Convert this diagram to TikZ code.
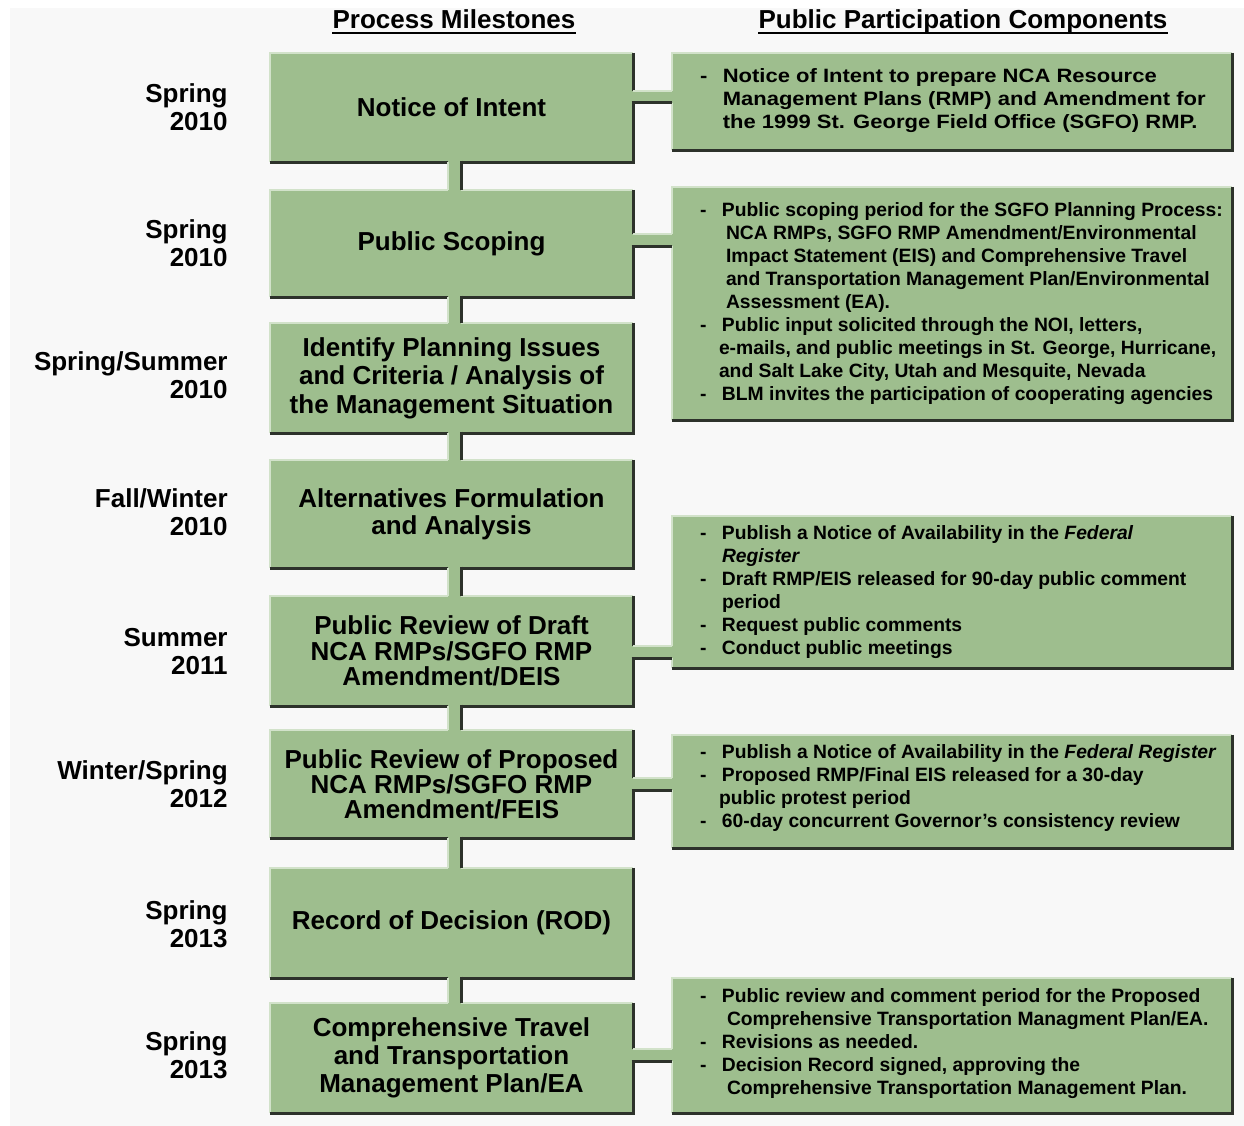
\documentclass[tikz,border=0pt]{standalone}
\usepackage{fontspec}
\usepackage{graphicx}
\setmainfont{Liberation Sans}
\usetikzlibrary{calc}
\definecolor{boxgreen}{RGB}{158,190,142}
\definecolor{edgedark}{RGB}{45,50,43}
\definecolor{edgelight}{RGB}{210,226,202}
\definecolor{bggray}{RGB}{248,248,248}
\tikzset{
  mbox/.style={fill=boxgreen, minimum width=363pt, inner sep=0pt, align=center,
    font=\fontsize{26}{28.5}\selectfont\bfseries},
  pbox/.style={fill=boxgreen, minimum width=560pt, inner sep=0pt},
  tlabel/.style={anchor=east, align=right, inner sep=0pt,
    font=\fontsize{26}{28}\selectfont\bfseries},
  rtext/.style={anchor=west, inner sep=0pt, align=left,
    font=\fontsize{19.3}{23}\selectfont\bfseries},
  hdr/.style={anchor=base, inner sep=0pt, font=\fontsize{26}{28}\selectfont\bfseries},
  darkline/.style={edgedark, line width=3pt, line join=miter},
  lightline/.style={edgelight, line width=1.5pt},
}
\newcommand\bevelbox[1]{%
  \draw[lightline] (#1.south west) -- (#1.north west) -- (#1.north east);
  \draw[darkline] (#1.north east) -- (#1.south east) -- (#1.south west);
}
\newcommand\vconn[2]{%
  \fill[boxgreen] ($(#1.south)+(-3.5,-3)$) rectangle ($(#2.north)+(9.5,3)$);
  \draw[lightline] ($(#1.south)+(-3.5,0)$) -- ($(#2.north)+(-3.5,0)$);
  \draw[darkline] ($(#1.south)+(9.5,-1.5)$) -- ($(#2.north)+(9.5,0)$);
}
\newcommand\hconn[3]{%
  \coordinate (#1h) at ($(#1.east)+(0,#3)$);
  \fill[boxgreen] ($(#1h)+(-3,-6)$) rectangle ($(#2.west |- #1h)+(3,6)$);
  \draw[lightline] ($(#1h)+(0,-6)$) -- ($(#2.west |- #1h)+(0,-6)$);
  \draw[darkline] ($(#1h)+(-1.5,6)$) -- ($(#2.west |- #1h)+(0,6)$);
}
\begin{document}
\begin{tikzpicture}[x=1pt,y=-1pt]
\useasboundingbox (0,0) rectangle (1244,1126);
\fill[white] (0,0) rectangle (1244,1126);
\fill[bggray] (10,8) rectangle (1244,1126);

% headers
\node[hdr] (H1) at (454,29) {Process Milestones};
\node[hdr] (H2) at (963,29) {Public Participation Components};
\draw[line width=2pt] ($(H1.base west)+(0,4)$) -- ($(H1.base east)+(0,4)$);
\draw[line width=2pt] ($(H2.base west)+(0,4)$) -- ($(H2.base east)+(0,4)$);

% milestone boxes
\node[mbox, minimum height=109pt] (L1) at (451.5,107.5) {Notice of Intent};
\node[mbox, minimum height=107pt] (L2) at (451.5,243.5) {Public Scoping};
\node[mbox, minimum height=110pt] (L3) at (451.5,378) {Identify Planning Issues\\and Criteria / Analysis of\\the Management Situation};
\node[mbox, minimum height=108pt, font=\fontsize{26}{27}\selectfont\bfseries] (L4) at (451.5,514) {Alternatives Formulation\\and Analysis};
\node[mbox, minimum height=110pt, font=\fontsize{26}{25.5}\selectfont\bfseries] (L5) at (451.5,651) {Public Review of Draft\\NCA RMPs/SGFO RMP\\Amendment/DEIS};
\node[mbox, minimum height=108pt, font=\fontsize{26}{25}\selectfont\bfseries] (L6) at (451.5,784) {Public Review of Proposed\\NCA RMPs/SGFO RMP\\Amendment/FEIS};
\node[mbox, minimum height=110pt] (L7) at (451.5,923) {Record of Decision (ROD)};
\node[mbox, minimum height=110pt, font=\fontsize{26}{28}\selectfont\bfseries] (L8) at (451.5,1058) {Comprehensive Travel\\and Transportation\\Management Plan/EA};
\foreach \n in {L1,L2,L3,L4,L5,L6,L7,L8} {\bevelbox{\n}}

% participation boxes
\node[pbox, minimum height=97pt] (R1) at (952,101.5) {};
\node[pbox, minimum height=233pt] (R2) at (952,303.5) {};
\node[pbox, minimum height=152pt] (R3) at (952,592) {};
\node[pbox, minimum height=113pt] (R4) at (952,791.5) {};
\node[pbox, minimum height=135pt] (R5) at (952,1045.5) {};
\foreach \n in {R1,R2,R3,R4,R5} {\bevelbox{\n}}

% connectors
\vconn{L1}{L2}
\vconn{L2}{L3}
\vconn{L3}{L4}
\vconn{L4}{L5}
\vconn{L5}{L6}
\vconn{L6}{L7}
\vconn{L7}{L8}
\hconn{L1}{R1}{-10.5}
\hconn{L2}{R2}{-3.5}
\hconn{L5}{R3}{1}
\hconn{L6}{R4}{0}
\hconn{L8}{R5}{-3}

% time labels
\node[tlabel] (T1) at ($(L1.west)+(-42,0)$) {Spring\\2010};
\node[tlabel] (T2) at ($(L2.west)+(-42,0)$) {Spring\\2010};
\node[tlabel] (T3) at ($(L3.west)+(-42,-3)$) {Spring/Summer\\2010};
\node[tlabel] (T4) at ($(L4.west)+(-42,-2)$) {Fall/Winter\\2010};
\node[tlabel] (T5) at ($(L5.west)+(-42,1)$) {Summer\\2011};
\node[tlabel] (T6) at ($(L6.west)+(-42,0)$) {Winter/Spring\\2012};
\node[tlabel] (T7) at ($(L7.west)+(-42,1)$) {Spring\\2013};
\node[tlabel] (T8) at ($(L8.west)+(-42,-3)$) {Spring\\2013};

% participation texts
\node[rtext] (P1) at ($(R1.west)+(28,-1)$) {\scalebox{1.14}[1]{\begin{tabular}{@{}p{20pt}@{}l@{}}
- & Notice of Intent to prepare NCA Resource\\
  & Management Plans (RMP) and Amendment for\\
  & the 1999 St. George Field Office (SGFO) RMP.
\end{tabular}}};
\node[rtext] (P2) at ($(R2.west)+(28,0)$) {\begin{tabular}{@{}p{22pt}@{}l@{}}
- & Public scoping period for the SGFO Planning Process:\\
  & \hspace{4pt}NCA RMPs, SGFO RMP Amendment/Environmental\\
  & \hspace{4pt}Impact Statement (EIS) and Comprehensive Travel\\
  & \hspace{4pt}and Transportation Management Plan/Environmental\\
  & \hspace{4pt}Assessment (EA).\\
- & Public input solicited through the NOI, letters,\\
  & \hspace{-3pt}e-mails, and public meetings in St. George, Hurricane,\\
  & \hspace{-3pt}and Salt Lake City, Utah and Mesquite, Nevada\\
- & BLM invites the participation of cooperating agencies
\end{tabular}};
\node[rtext] (P3) at ($(R3.west)+(28,0)$) {\begin{tabular}{@{}p{22pt}@{}l@{}}
- & Publish a Notice of Availability in the \textit{Federal}\\
  & \textit{Register}\\
- & Draft RMP/EIS released for 90-day public comment\\
  & period\\
- & Request public comments\\
- & Conduct public meetings
\end{tabular}};
\node[rtext] (P4) at ($(R4.west)+(28,-3)$) {\begin{tabular}{@{}p{22pt}@{}l@{}}
- & Publish a Notice of Availability in the \textit{Federal Register}\\
- & Proposed RMP/Final EIS released for a 30-day\\
  & \hspace{-3pt}public protest period\\
- & 60-day concurrent Governor’s consistency review
\end{tabular}};
\node[rtext] (P5) at ($(R5.west)+(28,-1.5)$) {\begin{tabular}{@{}p{22pt}@{}l@{}}
- & Public review and comment period for the Proposed\\
  & \hspace{5pt}Comprehensive Transportation Managment Plan/EA.\\
- & Revisions as needed.\\
- & Decision Record signed, approving the\\
  & \hspace{5pt}Comprehensive Transportation Management Plan.
\end{tabular}};
\end{tikzpicture}
\end{document}
